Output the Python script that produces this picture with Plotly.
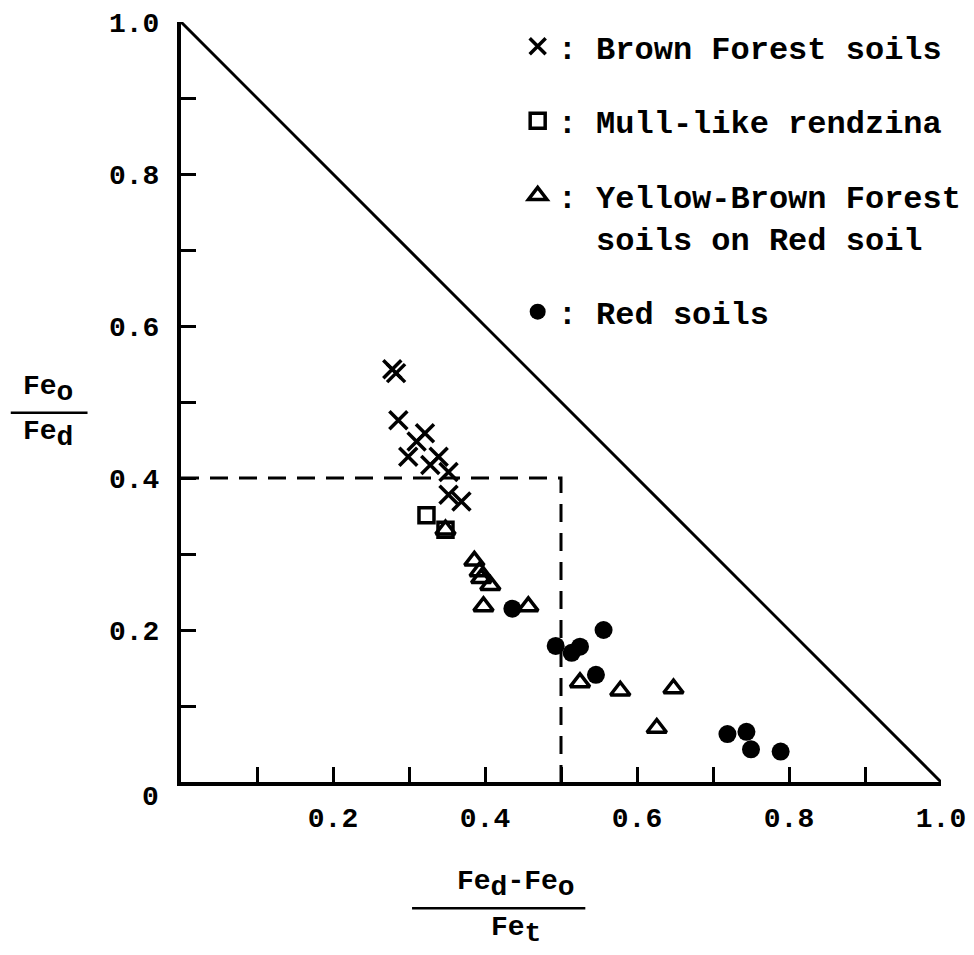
import plotly.graph_objects as go

# Fe ratio diagram: (Fed - Feo)/Fet against Feo/Fed
brown_x = [0.278, 0.283, 0.286, 0.299, 0.310, 0.321, 0.328, 0.339, 0.352, 0.352, 0.369]
brown_y = [0.543, 0.538, 0.476, 0.428, 0.448, 0.459, 0.417, 0.428, 0.408, 0.378, 0.369]

mull_x = [0.323, 0.348]
mull_y = [0.351, 0.332]

yb_x = [0.348, 0.386, 0.393, 0.395, 0.407, 0.398, 0.457, 0.525, 0.578, 0.648, 0.626]
yb_y = [0.332, 0.291, 0.277, 0.268, 0.259, 0.231, 0.231, 0.131, 0.120, 0.123, 0.071]

red_x = [0.436, 0.493, 0.514, 0.525, 0.556, 0.546, 0.719, 0.744, 0.750, 0.789]
red_y = [0.228, 0.179, 0.170, 0.178, 0.200, 0.141, 0.063, 0.066, 0.043, 0.040]

# boundary of the diagram and the 0.4 / 0.5 division lines
limit_x = [0.0, 1.0]
limit_y = [1.0, 0.0]
split_x = [0.0, 0.5, 0.5]
split_y = [0.4, 0.4, 0.0]

minor_ticks = [0.1, 0.2, 0.3, 0.4, 0.5, 0.6, 0.7, 0.8, 0.9, 1.0]
x_tick_text = ["", "0.2", "", "0.4", "", "0.6", "", "0.8", "", "1.0"]
y_tick_text = ["", "0.2", "", "0.4", "", "0.6", "", "0.8", "", "1.0"]

FONT = "Liberation Mono"
INK = "black"


def sub(s):
    # subscript kept close to full size, as on a typewriter
    return f"<sub><span style='font-size:28px'>{s}</span></sub>"


fig = go.Figure()

fig.add_trace(go.Scatter(
    x=limit_x, y=limit_y, mode="lines", showlegend=False, cliponaxis=False,
    line=dict(color=INK, width=3), hoverinfo="skip"))
fig.add_trace(go.Scatter(
    x=split_x, y=split_y, mode="lines", showlegend=False,
    line=dict(color=INK, width=3, dash="18px,11px"), hoverinfo="skip"))

fig.add_trace(go.Scatter(
    x=brown_x, y=brown_y, mode="markers", name=": Brown Forest soils",
    marker=dict(symbol="x-thin", size=18, color=INK, line=dict(color=INK, width=3.5))))
fig.add_trace(go.Scatter(
    x=mull_x, y=mull_y, mode="markers", name=": Mull-like rendzina",
    marker=dict(symbol="square-open", size=15, color=INK, line=dict(color=INK, width=3.5))))
fig.add_trace(go.Scatter(
    x=yb_x, y=yb_y, mode="markers",
    name=": Yellow-Brown Forest<br>&nbsp;&nbsp;soils on Red soil",
    marker=dict(symbol="triangle-up-open", size=17, color=INK, line=dict(color=INK, width=3.5))))
fig.add_trace(go.Scatter(
    x=red_x, y=red_y, mode="markers", name=": Red soils",
    marker=dict(symbol="circle", size=18, color=INK, line=dict(width=0))))

axis_common = dict(
    range=[0, 1], showgrid=False, zeroline=False, showline=True,
    linecolor=INK, linewidth=4, ticks="inside", ticklen=15, tickwidth=3,
    tickcolor=INK, tickmode="array", tickvals=minor_ticks,
    tickfont=dict(family=FONT, size=28, color=INK, weight="bold"),
)

fig.update_xaxes(**axis_common, ticktext=x_tick_text, ticklabelstandoff=7)
fig.update_yaxes(**axis_common, ticktext=y_tick_text, ticklabelstandoff=12)

# axis titles written as stacked fractions
title_font = dict(family=FONT, size=28, color=INK, weight="bold")
annotations = [
    dict(x=-0.026, y=0.0, text="0", showarrow=False, xanchor="right", yanchor="top",
         font=title_font, yshift=2),
    dict(x=-0.175, y=0.489, text="Fe" + sub("o"), showarrow=False,
         xanchor="center", yanchor="bottom", font=title_font),
    dict(x=-0.175, y=0.484, text="Fe" + sub("d"), showarrow=False,
         xanchor="center", yanchor="top", font=title_font),
    dict(x=0.441, y=-0.162, text="Fe" + sub("d") + "-Fe" + sub("o"), showarrow=False,
         xanchor="center", yanchor="bottom", font=title_font),
    dict(x=0.441, y=-0.168, text="Fe" + sub("t"), showarrow=False,
         xanchor="center", yanchor="top", font=title_font),
]
for a in annotations:
    a.update(xref="paper", yref="paper")

shapes = [
    dict(type="line", xref="paper", yref="paper", x0=-0.224, x1=-0.123,
         y0=0.486, y1=0.486, line=dict(color=INK, width=2.5)),
    dict(type="line", xref="paper", yref="paper", x0=0.304, x1=0.532,
         y0=-0.166, y1=-0.166, line=dict(color=INK, width=2.5)),
]

fig.update_layout(
    width=974, height=955,
    margin=dict(l=181, r=33, t=22, b=173, autoexpand=False),
    paper_bgcolor="white", plot_bgcolor="white",
    font=dict(family=FONT, color=INK),
    annotations=annotations, shapes=shapes,
    legend=dict(
        x=0.443, y=1.004, xanchor="left", yanchor="top", valign="top",
        font=dict(family=FONT, size=32, color=INK, weight="bold"),
        bgcolor="rgba(0,0,0,0)", tracegroupgap=30,
        traceorder="grouped", itemsizing="trace",
    ),
)
for i, tr in enumerate(fig.data):
    tr.legendgroup = f"g{i}"

fig.write_html("out.html")
